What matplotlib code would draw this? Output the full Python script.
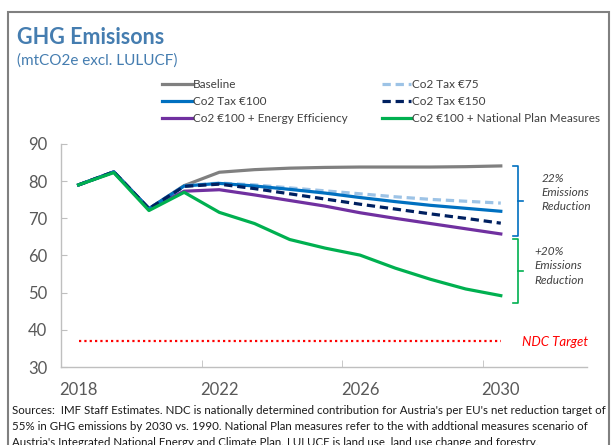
import matplotlib
matplotlib.use("Agg")
import matplotlib.pyplot as plt
from matplotlib.patches import Rectangle

plt.rcParams['font.family'] = ['Lato', 'DejaVu Sans']

# -------------------------
# Data (mtCO2e excl. LULUCF)
# -------------------------
years = [2018, 2019, 2020, 2021, 2022, 2023, 2024, 2025, 2026, 2027, 2028, 2029, 2030]
history = [79.0, 82.5, 72.6]

baseline = history + [78.8, 82.4, 83.1, 83.5, 83.7, 83.8, 83.8, 83.8, 83.9, 84.1]
tax_75 = history + [78.8, 79.5, 79.0, 78.2, 77.4, 76.6, 75.8, 75.1, 74.6, 74.1]
tax_100 = history + [78.7, 79.4, 78.7, 77.8, 76.8, 75.6, 74.5, 73.5, 72.7, 71.9]
tax_150 = history + [78.6, 79.2, 78.0, 76.6, 75.2, 73.8, 72.5, 71.2, 70.0, 68.7]
energy_eff = history + [77.3, 77.7, 76.3, 74.8, 73.3, 71.5, 70.0, 68.6, 67.2, 65.8]
national_plan = [79.0, 82.3, 72.1, 77.0, 71.6, 68.6, 64.3, 62.0, 60.1, 56.6, 53.6, 51.0, 49.2]
ndc_target = 37.1

year_labels = [2018, 2022, 2026, 2030]
yticks = [30, 40, 50, 60, 70, 80, 90]

# -------------------------
# Figure
# -------------------------
W, H = 613, 445
fig = plt.figure(figsize=(W / 100, H / 100), dpi=100)
ax = fig.add_axes([61 / W, 1 - 367 / H, (587 - 61) / W, (367 - 144) / H])

lw = 2.3
dash = (0, (2.6, 1.5))
l_base, = ax.plot(years, baseline, color='#808080', lw=lw, label='Baseline', zorder=3)
l_75, = ax.plot(years, tax_75, color='#9dc3e6', lw=lw, ls=dash, label='Co2 Tax €75', zorder=4)
l_100, = ax.plot(years, tax_100, color='#0070c0', lw=lw, label='Co2 Tax €100', zorder=5)
l_150, = ax.plot(years, tax_150, color='#002060', lw=lw, ls=dash, label='Co2 Tax €150', zorder=6)
l_ee, = ax.plot(years, energy_eff, color='#7030a0', lw=lw, label='Co2 €100 + Energy Efficiency', zorder=4)
l_np, = ax.plot(years, national_plan, color='#00b050', lw=lw,
                label='Co2 €100 + National Plan Measures', zorder=7)

# NDC target line
ax.plot([years[0], years[-1]], [ndc_target, ndc_target], color='#ff0000', lw=1.6,
        ls=(0, (1, 1.4)), zorder=2)
ax.text(2030.6, ndc_target - 0.5, 'NDC Target', color='#ff0000', fontsize=9.5,
        style='italic', va='center', ha='left')

# reduction brackets
def bracket(y0, y1, color):
    xb = 2030.5
    ax.plot([xb - 0.14, xb, xb, xb - 0.14], [y0, y0, y1, y1], color=color, lw=1.2, clip_on=False)
    ym = (y0 + y1) / 2
    ax.plot([xb, xb + 0.13], [ym, ym], color=color, lw=1.2, clip_on=False)

bracket(84.2, 65.2, '#0070c0')
bracket(64.4, 47.2, '#00b050')
ax.text(2031.15, 77.0, '22%\nEmissions\nReduction', fontsize=8.5, style='italic',
        color='#404040', va='center', ha='left', linespacing=1.35)
ax.text(2030.95, 57.2, '+20%\nEmissions\nReduction', fontsize=8.5, style='italic',
        color='#404040', va='center', ha='left', linespacing=1.35)

# axes styling
ax.set_xlim(2017.5, 2032.45)
ax.set_ylim(30, 90)
ax.set_yticks(yticks)
ax.set_xticks(year_labels)
ax.set_xticks([2021.5, 2025.5, 2029.5], minor=True)
for s in ['top', 'right']:
    ax.spines[s].set_visible(False)
for s in ['left', 'bottom']:
    ax.spines[s].set_color('#bfbfbf')
    ax.spines[s].set_linewidth(1.0)
ax.tick_params(axis='y', direction='in', length=4, color='#bfbfbf', pad=10,
               labelsize=12, labelcolor='#595959')
ax.tick_params(axis='x', which='major', length=0, pad=11, labelsize=12, labelcolor='#595959')
ax.tick_params(axis='x', which='minor', direction='in', length=5, color='#bfbfbf')

# legend, filled row by row
handles = [l_base, l_100, l_ee, l_75, l_150, l_np]
fig.legend(handles=handles, labels=[h.get_label() for h in handles],
           loc='upper left', bbox_to_anchor=(162 / W, 1 - 79 / H), ncol=2, frameon=False,
           fontsize=8.5, handlelength=2.5, handletextpad=0.1, columnspacing=2.9,
           labelspacing=0.5, borderpad=0, borderaxespad=0, labelcolor='#404040')

# titles
blue = '#457db0'
fig.text(17 / W, 1 - 37 / H, 'GHG Emisisons', fontsize=15.5, fontweight='bold', color=blue,
         va='center', ha='left')
fig.text(17 / W, 1 - 61 / H, '(mtCO2e excl. LULUCF)', fontsize=11, color=blue,
         va='center', ha='left')

# sources
notes = ["Sources:  IMF Staff Estimates. NDC is nationally determined contribution for Austria's per EU's net reduction target of",
         "55% in GHG emissions by 2030 vs. 1990. National Plan measures refer to the with addtional measures scenario of",
         "Austria's Integrated National Energy and Climate Plan. LULUCF is land use, land use change and forestry."]
for i, line in enumerate(notes):
    fig.text(12 / W, 1 - (411 + 16 * i) / H, line, fontsize=8.3, color='#1a1a1a',
             va='center', ha='left')

# outer frame
fig.patches.append(Rectangle((8 / W, -0.1), (609 - 8) / W, 1.1 - 12 / H,
                             transform=fig.transFigure, fill=False,
                             edgecolor='#808080', lw=1.5))

fig.savefig('out.png', dpi=100)
